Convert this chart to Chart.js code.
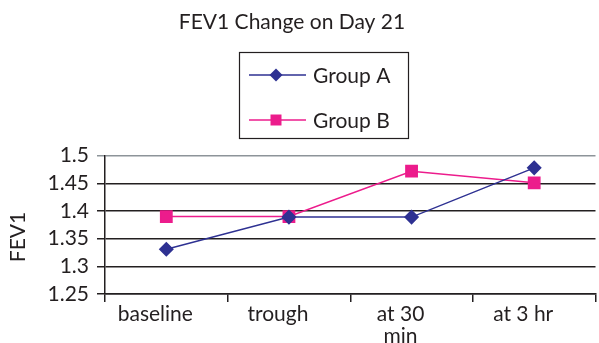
<!DOCTYPE html>
<html>
<head>
<meta charset="utf-8">
<script src="https://cdn.jsdelivr.net/npm/chart.js@4.4.1/dist/chart.umd.min.js"></script>
<style>
  html, body { margin: 0; padding: 0; background: #fff; overflow: hidden; }
  #wrap { width: 605px; height: 343px; }
</style>
</head>
<body>
<div id="wrap"><canvas id="myChart"></canvas></div>
<script>
// chart data
var categories = ["baseline", "trough", ["at 30", "min"], "at 3 hr"];
var groupA = [1.331, 1.389, 1.389, 1.478];
var groupB = [1.39, 1.39, 1.472, 1.451];
var yTicks = [1.25, 1.3, 1.35, 1.4, 1.45, 1.5];

var FONT = "Lato, 'Open Sans', sans-serif";
var INK = "#231f20";

// title, y axis title and the boxed legend
var decorations = {
  id: 'decorations',
  afterDraw: function(chart) {
    var ctx = chart.ctx;
    ctx.save();
    ctx.fillStyle = INK;
    ctx.font = "21px " + FONT;
    ctx.textAlign = "center";
    ctx.textBaseline = "alphabetic";
    ctx.fillText("FEV1 Change on Day 21", 292, 29);

    // FEV1 rotated
    ctx.save();
    ctx.translate(25, 237);
    ctx.rotate(-Math.PI / 2);
    ctx.fillText("FEV1", 0, 0);
    ctx.restore();

    // legend box
    ctx.strokeStyle = INK;
    ctx.lineWidth = 1.2;
    ctx.strokeRect(239.5, 52.5, 169, 86);

    var rows = [75, 120];
    chart.data.datasets.forEach(function(ds, i) {
      var y = rows[i];
      ctx.strokeStyle = ds.borderColor;
      ctx.lineWidth = 1.5;
      ctx.beginPath();
      ctx.moveTo(249, y);
      ctx.lineTo(306, y);
      ctx.stroke();
      ctx.fillStyle = ds.backgroundColor;
      ctx.beginPath();
      if (ds.pointStyle === 'rectRot') {
        ctx.moveTo(276, y - 6.5); ctx.lineTo(282.5, y); ctx.lineTo(276, y + 6.5); ctx.lineTo(269.5, y);
      } else {
        ctx.rect(270.5, y - 5.5, 11, 11);
      }
      ctx.closePath();
      ctx.fill();
      ctx.fillStyle = INK;
      ctx.font = "21px " + FONT;
      ctx.textAlign = "left";
      ctx.textBaseline = "alphabetic";
      ctx.fillText(ds.label, 313, y + 7.5);
    });
    ctx.restore();
  }
};

new Chart(document.getElementById("myChart"), {
  type: 'line',
  data: {
    labels: categories,
    datasets: [
      {
        label: "Group A",
        data: groupA,
        borderColor: '#2e3192',
        backgroundColor: '#2e3192',
        borderWidth: 1.5,
        pointStyle: 'rectRot',
        pointRadius: 6.5,
        pointHoverRadius: 6.5,
        tension: 0
      },
      {
        label: "Group B",
        data: groupB,
        borderColor: '#ec1c8c',
        backgroundColor: '#ec1c8c',
        borderWidth: 1.5,
        pointStyle: 'rect',
        pointRadius: 8,
        pointHoverRadius: 8,
        tension: 0
      }
    ]
  },
  options: {
    responsive: true,
    maintainAspectRatio: false,
    animation: false,
    layout: { padding: { top: 155.7, left: 0, right: 0, bottom: 0 } },
    plugins: {
      legend: { display: false },
      title: { display: false },
      tooltip: { enabled: false }
    },
    scales: {
      x: {
        offset: true,
        afterFit: function(axis) { axis.height = 343 - 294; },
        grid: {
          offset: true,
          drawOnChartArea: false,
          drawTicks: true,
          tickLength: 8,
          color: INK,
          lineWidth: 1.5
        },
        border: { display: true, color: INK, width: 1.5 },
        ticks: {
          color: INK,
          font: { family: FONT, size: 21, lineHeight: 1.05 },
          padding: 1,
          labelOffset: -11,
          maxRotation: 0,
          autoSkip: false
        }
      },
      y: {
        min: 1.25,
        max: 1.5,
        afterFit: function(axis) { axis.width = 105; },
        afterBuildTicks: function(axis) {
          axis.ticks = yTicks.map(function(v) { return { value: v }; });
        },
        grid: {
          color: function(c) { return c.tick && c.tick.value === 1.5 ? '#8d9499' : INK; },
          lineWidth: 1.5,
          drawTicks: true,
          tickLength: 8
        },
        border: { display: true, color: INK, width: 1.5 },
        ticks: {
          color: INK,
          font: { family: FONT, size: 21 },
          padding: 8,
          autoSkip: false,
          callback: function(v) { return String(v); }
        }
      }
    }
  },
  plugins: [decorations]
});
</script>
</body>
</html>
